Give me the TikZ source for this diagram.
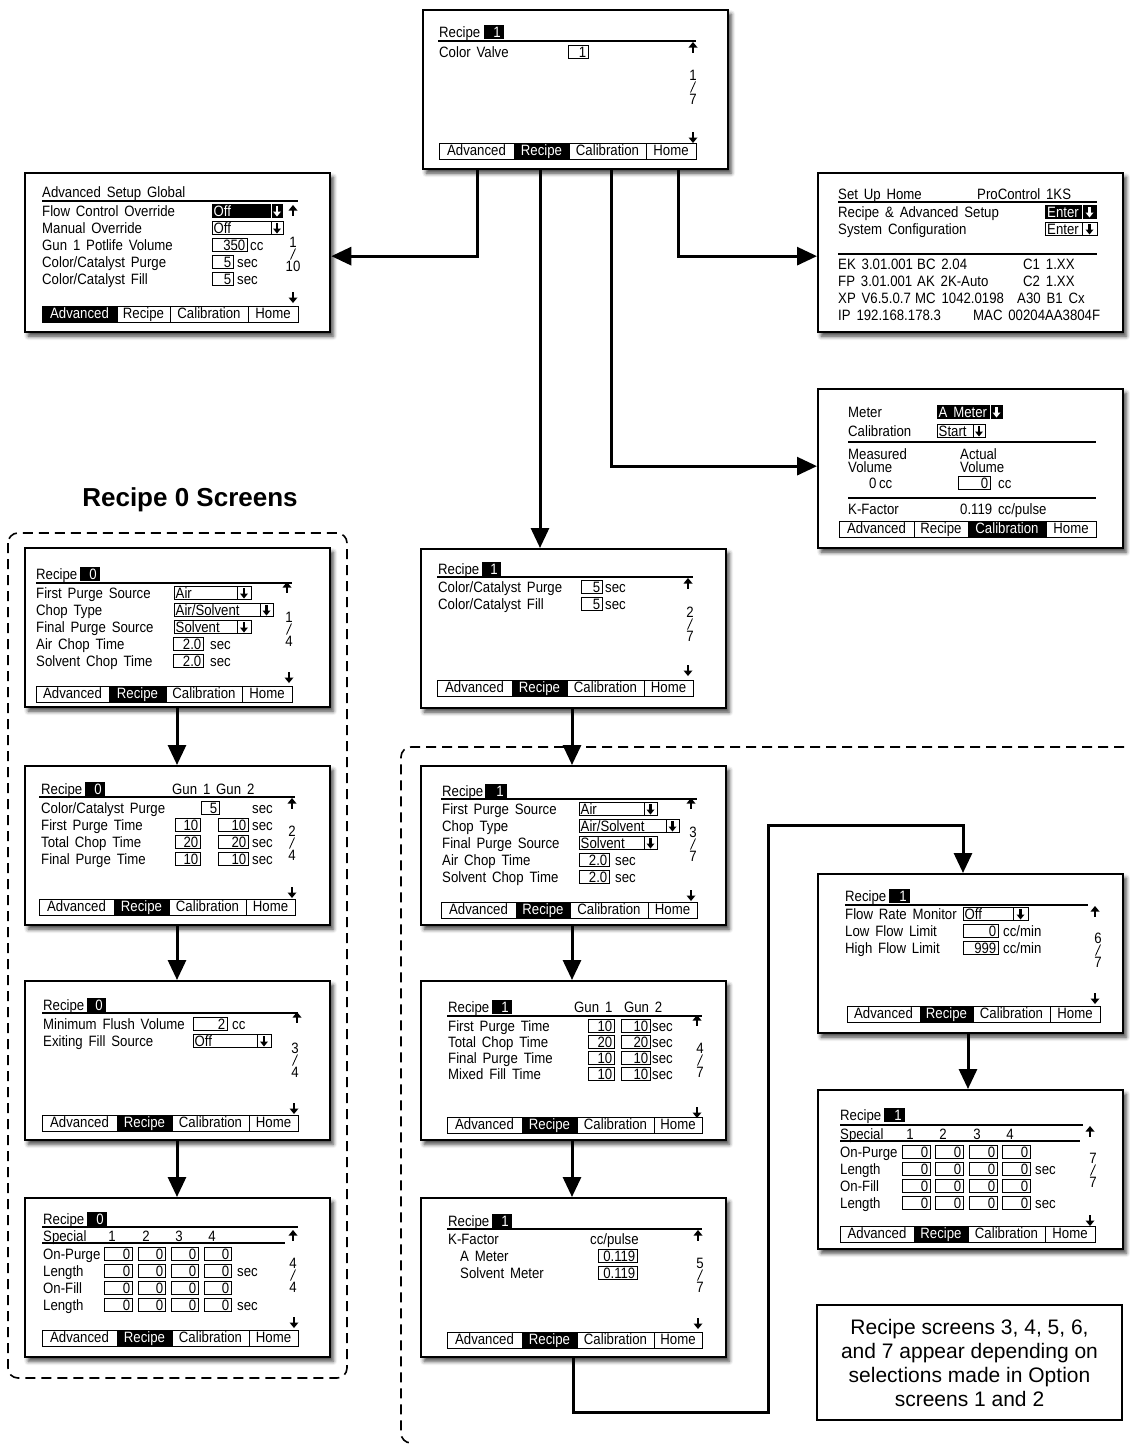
\documentclass[tikz,border=0pt]{standalone}
\usepackage{fontspec}
\setmainfont{Liberation Sans}
\newfontfamily\lcd[FakeStretch=0.88,WordSpace=1.6]{Liberation Sans}
\usetikzlibrary{arrows.meta,calc,shadows.blur}

\tikzset{
 lcd/.style={font=\lcd\fontsize{15}{18}\selectfont,inner sep=0pt},
 uline/.style={line width=1.1pt},
 fbox/.style={line width=0.9pt},
 tabl/.style={line width=1pt},
 screen/.style={draw,line width=2.3pt,fill=white,minimum width=305pt,minimum height=159pt,inner sep=0pt,anchor=north west,
   blur shadow={shadow xshift=3pt,shadow yshift=-4pt,shadow blur radius=4pt,shadow opacity=75}},
 conn/.style={line width=3pt,-{Triangle[length=20pt,width=18pt]}},
 dashbox/.style={line width=1.6pt,dash pattern=on 10pt off 6pt},
}
\newcommand\Tl[3]{\node[lcd,anchor=base west] at ({#1},{#2+5}) {#3};}
\newcommand\Tc[3]{\node[lcd,anchor=base] at ({#1},{#2+5}) {#3};}
\newcommand\Hl[3]{\draw[uline] ({#1},{#3}) -- ({#2},{#3});}
\newcommand\Ua[2]{\fill ({#1-4.5},{#2-0.5}) -- ({#1+4.5},{#2-0.5}) -- ({#1},{#2-6}) -- cycle; \fill ({#1-1.4},{#2-1}) rectangle ({#1+1.4},{#2+5});}
\newcommand\Da[2]{\fill ({#1-4.5},{#2+0.5}) -- ({#1+4.5},{#2+0.5}) -- ({#1},{#2+6}) -- cycle; \fill ({#1-1.4},{#2+1}) rectangle ({#1+1.4},{#2-5});}
\newcommand\Sa[3]{\fill[#3] ({#1-4},{#2+0.5}) -- ({#1+4},{#2+0.5}) -- ({#1},{#2+5.5}) -- cycle; \fill[#3] ({#1-1.3},{#2+1}) rectangle ({#1+1.3},{#2-5});}
\newcommand\Fd[4]{\draw[fbox] ({#1},{#3-6.5}) rectangle ({#2},{#3+6.5}); \node[lcd,anchor=base east] at ({#2-1.5},{#3+5}) {#4};}
\newcommand\Iv[4]{\fill ({#1},{#3-7}) rectangle ({#2},{#3+7}); \node[lcd,anchor=base east,text=white] at ({#2-3},{#3+5}) {#4};}
\newcommand\Dd[5]{\draw[fbox] ({#1},{#4-6.5}) rectangle ({#3},{#4+6.5}) ({#2},{#4-6.5}) -- ({#2},{#4+6.5}); \node[lcd,anchor=base west] at ({#1+1.5},{#4+5}) {#5}; \Sa{(#2+#3)/2}{#4}{black}}
\newcommand\Di[5]{\fill ({#1},{#4-7}) rectangle ({#3},{#4+7}); \draw[white,line width=0.8pt] ({#2},{#4-7}) -- ({#2},{#4+7}); \node[lcd,anchor=base west,text=white] at ({#1+1.5},{#4+5}) {#5}; \Sa{(#2+#3)/2}{#4}{white}}
\newcommand\Pg[4]{\Tc{#1}{#2-12}{#3}\draw[line width=0.8pt] ({#1+2.5},{#2-5.5}) -- ({#1-2.5},{#2+5.5});\Tc{#1}{#2+12}{#4}}
\newcommand\Four[9]{\Fd{#2}{#3}{#1}{0}\Fd{#4}{#5}{#1}{0}\Fd{#6}{#7}{#1}{0}\Fd{#8}{#9}{#1}{0}}
\newcommand\Tb[7]{%
 \ifcase#7\or\fill ({#1},{#6}) rectangle ({#2},{#6+16});%
 \or\fill ({#2},{#6}) rectangle ({#3},{#6+16});%
 \or\fill ({#3},{#6}) rectangle ({#4},{#6+16});\fi
 \draw[tabl] ({#1},{#6}) rectangle ({#5},{#6+16}) ({#2},{#6}) -- ({#2},{#6+16}) ({#3},{#6}) -- ({#3},{#6+16}) ({#4},{#6}) -- ({#4},{#6+16});
 \node[lcd,anchor=base] at ({(#1+#2)/2},{#6+12.5}) {\ifnum#7=1 \color{white}\fi Advanced};
 \node[lcd,anchor=base] at ({(#2+#3)/2},{#6+12.5}) {\ifnum#7=2 \color{white}\fi Recipe};
 \node[lcd,anchor=base] at ({(#3+#4)/2},{#6+12.5}) {\ifnum#7=3 \color{white}\fi Calibration};
 \node[lcd,anchor=base] at ({(#4+#5)/2},{#6+12.5}) {Home};
}

\begin{document}
\begin{tikzpicture}[x=1pt,y=-1pt]
\useasboundingbox (0,0) rectangle (1130,1446);

% dashed groups
\draw[dashbox,rounded corners=10pt] (8,533) rectangle (347,1378);
\draw[dashbox,rounded corners=10pt] (1140,747) -- (401,747) -- (401,1443) -- (414,1443);

% title and note
\node[font=\bfseries\fontsize{26}{30}\selectfont,inner sep=0pt] (ttl) at (190,500) {Recipe 0 Screens};
\node[draw,line width=1.5pt,minimum width=305pt,minimum height=115pt,align=center,inner sep=0pt,
  font=\fontsize{21}{24}\selectfont] (note) at (969.5,1362.5)
  {Recipe screens 3, 4, 5, 6,\\and 7 appear depending on\\selections made in Option\\screens 1 and 2};

% screen frames
\node[screen] (s1) at (422,9) {};
\node[screen] (adv) at (24,172) {};
\node[screen] (home) at (817,172) {};
\node[screen] (cal) at (817,388) {};
\node[screen] (r0a) at (24,547) {};
\node[screen] (r0b) at (24,765) {};
\node[screen] (r0c) at (24,980) {};
\node[screen] (r0d) at (24,1197) {};
\node[screen] (r1b) at (420,548) {};
\node[screen] (r1c) at (420,765) {};
\node[screen] (r1d) at (420,980) {};
\node[screen] (r1e) at (420,1197) {};
\node[screen] (r1f) at (817,873) {};
\node[screen] (r1g) at (817,1089) {};

% connectors
\coordinate (a1) at ($(s1.south west)+(55,0)$);
\coordinate (a2) at ($(s1.south west)+(118,0)$);
\coordinate (a3) at ($(s1.south west)+(189,0)$);
\coordinate (a4) at ($(s1.south west)+(256,0)$);
\draw[conn] (a1) |- ($(adv.east)+(0,3.5)$);
\draw[conn] (a2) -- (a2 |- r1b.north);
\draw[conn] (a3) |- ($(cal.west)+(0,-2.5)$);
\draw[conn] (a4) |- ($(home.west)+(0,3.5)$);
\coordinate (l1) at ($(r0a.south west)+(153,0)$);
\coordinate (l2) at ($(r0b.south west)+(153,0)$);
\coordinate (l3) at ($(r0c.south west)+(153,0)$);
\draw[conn] (l1) -- (l1 |- r0b.north);
\draw[conn] (l2) -- (l2 |- r0c.north);
\draw[conn] (l3) -- (l3 |- r0d.north);
\coordinate (m1) at ($(r1b.south west)+(152,0)$);
\coordinate (m2) at ($(r1c.south west)+(152,0)$);
\coordinate (m3) at ($(r1d.south west)+(152,0)$);
\draw[conn] (m1) -- (m1 |- r1c.north);
\draw[conn] (m2) -- (m2 |- r1d.north);
\draw[conn] (m3) -- (m3 |- r1e.north);
\coordinate (e1) at ($(r1e.south west)+(153,0)$);
\coordinate (turn) at (768,825);
\coordinate (e2) at ($(r1f.north west)+(146,0)$);
\draw[conn] (e1) -- ++(0,54) -| (turn) -| (e2);
\coordinate (f1) at ($(r1f.south west)+(151,0)$);
\draw[conn] (f1) -- (f1 |- r1g.north);

% ---- s1: Recipe 1, page 1
\begin{scope}[shift={(422,10)}]
\Tl{17}{22}{Recipe} \Iv{62}{82}{22}{1}
\Hl{16}{274}{31}
\Tl{17}{42}{Color Valve} \Fd{146}{166}{42}{1}
\Ua{271}{38} \Pg{271}{77}{1}{7} \Da{271}{127}
\Tb{17}{92}{147}{224}{274}{133}{2}
\end{scope}

% ---- Advanced
\begin{scope}[shift={(25,172)}]
\Tl{17}{20}{Advanced Setup Global}
\Hl{17}{273}{29}
\Tl{17}{39}{Flow Control Override} \Di{187}{246}{258}{39}{Off} \Ua{268}{39}
\Tl{17}{56}{Manual Override} \Dd{187}{246}{258}{56}{Off}
\Tl{17}{73}{Gun 1 Potlife Volume} \Fd{187}{222}{73}{350} \Tl{225}{73}{cc}
\Tl{17}{90}{Color/Catalyst Purge} \Fd{187}{208}{90}{5} \Tl{212}{90}{sec}
\Tl{17}{107}{Color/Catalyst Fill} \Fd{187}{208}{107}{5} \Tl{212}{107}{sec}
\Pg{268}{82}{1}{10} \Da{268}{125}
\Tb{17}{92}{145}{223}{273}{134}{1}
\end{scope}

% ---- Set Up Home
\begin{scope}[shift={(817,172)}]
\Tl{21}{22}{Set Up Home} \Tl{160}{22}{ProControl 1KS}
\Hl{21}{280}{30}
\Tl{21}{40}{Recipe \& Advanced Setup}
\fill (228,33) rectangle (280,47); \draw[white,line width=0.8pt] (265,33) -- (265,47);
\node[lcd,anchor=base west,text=white] at (230,45) {Enter}; \Sa{272.5}{40}{white}
\Tl{21}{57}{System Configuration}
\draw[fbox] (228,50.5) rectangle (280,63.5) (265,50.5) -- (265,63.5);
\node[lcd,anchor=base west] at (230,62) {Enter}; \Sa{272.5}{57}{black}
\Hl{21}{280}{82}
\Tl{21}{92}{EK 3.01.001} \Tl{100}{92}{BC 2.04} \Tl{206}{92}{C1 1.XX}
\Tl{21}{109}{FP 3.01.001} \Tl{100}{109}{AK 2K-Auto} \Tl{206}{109}{C2 1.XX}
\Tl{21}{126}{XP V6.5.0.7} \Tl{98}{126}{MC 1042.0198} \Tl{200}{126}{A30 B1 Cx}
\Tl{21}{143}{IP 192.168.178.3} \Tl{156}{143}{MAC 00204AA3804F}
\end{scope}

% ---- Calibration
\begin{scope}[shift={(817,388)}]
\Tl{31}{24}{Meter} \Di{120}{173}{186}{24}{A Meter}
\Tl{31}{43}{Calibration} \Dd{120}{156}{168}{43}{Start}
\Hl{31}{279}{54}
\Tl{31}{66}{Measured} \Tl{31}{79}{Volume} \Tl{143}{66}{Actual} \Tl{143}{79}{Volume}
\Tl{52}{95}{0\,cc} \Fd{141}{173}{95}{0} \Tl{181}{95}{cc}
\Hl{31}{279}{110}
\Tl{31}{121}{K-Factor} \Tl{143}{121}{0.119 cc/pulse}
\Tb{22}{97}{151}{229}{279}{133}{3}
\end{scope}

% ---- Recipe 0, page 1
\begin{scope}[shift={(25,550)}]
\Tl{11}{24}{Recipe} \Iv{55}{75}{24}{0}
\Hl{11}{267}{33}
\Tl{11}{43}{First Purge Source} \Dd{149}{212}{226}{43}{Air}
\Tl{11}{60}{Chop Type} \Dd{149}{235}{248}{60}{Air/Solvent}
\Tl{11}{77}{Final Purge Source} \Dd{149}{212}{226}{77}{Solvent}
\Tl{11}{94}{Air Chop Time} \Fd{148}{178}{94}{2.0} \Tl{185}{94}{sec}
\Tl{11}{111}{Solvent Chop Time} \Fd{148}{178}{111}{2.0} \Tl{185}{111}{sec}
\Ua{262}{38} \Pg{264}{79}{1}{4} \Da{264}{127}
\Tb{11}{84}{141}{217}{267}{136}{2}
\end{scope}

% ---- Recipe 0, page 2
\begin{scope}[shift={(25,766)}]
\Tl{16}{23}{Recipe} \Iv{60}{80}{23}{0} \Tl{147}{23}{Gun 1 Gun 2}
\Hl{14}{270}{31}
\Tl{16}{42}{Color/Catalyst Purge} \Fd{176}{194}{42}{5} \Tl{227}{42}{sec}
\Tl{16}{59}{First Purge Time} \Fd{150}{175}{59}{10} \Fd{193}{223}{59}{10} \Tl{227}{59}{sec}
\Tl{16}{76}{Total Chop Time} \Fd{150}{175}{76}{20} \Fd{193}{223}{76}{20} \Tl{227}{76}{sec}
\Tl{16}{93}{Final Purge Time} \Fd{150}{175}{93}{10} \Fd{193}{223}{93}{10} \Tl{227}{93}{sec}
\Ua{267}{38} \Pg{267}{77}{2}{4} \Da{267}{126}
\Tb{14}{89}{144}{221}{270}{133}{2}
\end{scope}

% ---- Recipe 0, page 3
\begin{scope}[shift={(25,982)}]
\Tl{18}{23}{Recipe} \Iv{62}{81}{23}{0}
\Hl{17}{273}{31}
\Tl{18}{42}{Minimum Flush Volume} \Fd{168}{202}{42}{2} \Tl{207}{42}{cc}
\Tl{18}{59}{Exiting Fill Source} \Dd{168}{232}{246}{59}{Off}
\Ua{272}{36} \Pg{270}{78}{3}{4} \Da{269}{126}
\Tb{17}{92}{147}{224}{273}{133}{2}
\end{scope}

% ---- Recipe 0, page 4
\begin{scope}[shift={(25,1198)}]
\Tl{18}{21}{Recipe} \Iv{62}{82}{21}{0}
\Hl{17}{273}{29}
\Tl{18}{38}{Special} \Tc{87}{38}{1} \Tc{121}{38}{2} \Tc{154}{38}{3} \Tc{187}{38}{4}
\Hl{17}{260}{45}
\Tl{18}{56}{On-Purge} \Four{56}{79}{107}{113}{140}{146}{173}{179}{206}
\Tl{18}{73}{Length} \Four{73}{79}{107}{113}{140}{146}{173}{179}{206} \Tl{212}{73}{sec}
\Tl{18}{90}{On-Fill} \Four{90}{79}{107}{113}{140}{146}{173}{179}{206}
\Tl{18}{107}{Length} \Four{107}{79}{107}{113}{140}{146}{173}{179}{206} \Tl{212}{107}{sec}
\Ua{268}{38} \Pg{268}{77}{4}{4} \Da{269}{124}
\Tb{17}{92}{147}{224}{273}{132}{2}
\end{scope}

% ---- Recipe 1, page 2
\begin{scope}[shift={(421,548)}]
\Tl{17}{21}{Recipe} \Iv{61}{80}{21}{1}
\Hl{16}{272}{29}
\Tl{17}{39}{Color/Catalyst Purge} \Fd{160}{181}{39}{5} \Tl{184}{39}{sec}
\Tl{17}{56}{Color/Catalyst Fill} \Fd{160}{181}{56}{5} \Tl{184}{56}{sec}
\Ua{267}{36} \Pg{269}{76}{2}{7} \Da{267}{122}
\Tb{16}{91}{146}{223}{272}{132}{2}
\end{scope}

% ---- Recipe 1, page 3
\begin{scope}[shift={(421,766)}]
\Tl{21}{25}{Recipe} \Iv{64}{86}{25}{1}
\Hl{20}{276}{33}
\Tl{21}{43}{First Purge Source} \Dd{158}{223}{236}{43}{Air}
\Tl{21}{60}{Chop Type} \Dd{158}{245}{258}{60}{Air/Solvent}
\Tl{21}{77}{Final Purge Source} \Dd{158}{223}{236}{77}{Solvent}
\Tl{21}{94}{Air Chop Time} \Fd{158}{188}{94}{2.0} \Tl{194}{94}{sec}
\Tl{21}{111}{Solvent Chop Time} \Fd{158}{188}{111}{2.0} \Tl{194}{111}{sec}
\Ua{270}{38} \Pg{272}{78}{3}{7} \Da{270}{129}
\Tb{20}{95}{149}{227}{276}{136}{2}
\end{scope}

% ---- Recipe 1, page 4
\begin{scope}[shift={(421,982)}]
\Tl{27}{25}{Recipe} \Iv{71}{91}{25}{1} \Tl{153}{25}{Gun 1\ \ Gun 2}
\Hl{26}{281}{34}
\Tl{27}{44}{First Purge Time} \Fd{167}{193}{44}{10} \Fd{200}{229}{44}{10} \Tl{231}{44}{sec}
\Tl{27}{60}{Total Chop Time} \Fd{167}{193}{60}{20} \Fd{200}{229}{60}{20} \Tl{231}{60}{sec}
\Tl{27}{76}{Final Purge Time} \Fd{167}{193}{76}{10} \Fd{200}{229}{76}{10} \Tl{231}{76}{sec}
\Tl{27}{92}{Mixed Fill Time} \Fd{167}{193}{92}{10} \Fd{200}{229}{92}{10} \Tl{231}{92}{sec}
\Ua{276}{39} \Pg{279}{78}{4}{7} \Da{276}{130}
\Tb{26}{101}{156}{233}{281}{135}{2}
\end{scope}

% ---- Recipe 1, page 5
\begin{scope}[shift={(421,1198)}]
\Tl{27}{23}{Recipe} \Iv{71}{91}{23}{1}
\Hl{26}{281}{31}
\Tl{27}{41}{K-Factor} \Tl{169}{41}{cc/pulse}
\Tl{39}{58}{A Meter} \Fd{177}{216}{58}{0.119}
\Tl{39}{75}{Solvent Meter} \Fd{177}{216}{75}{0.119}
\Ua{277}{38} \Pg{279}{77}{5}{7} \Da{277}{125}
\Tb{26}{101}{156}{233}{281}{134}{2}
\end{scope}

% ---- Recipe 1, page 6
\begin{scope}[shift={(817,874)}]
\Tl{28}{22}{Recipe} \Iv{72}{93}{22}{1}
\Hl{28}{271}{31}
\Tl{28}{40}{Flow Rate Monitor} \Dd{146}{196}{211}{40}{Off}
\Tl{28}{57}{Low Flow Limit} \Fd{146}{181}{57}{0} \Tl{186}{57}{cc/min}
\Tl{28}{74}{High Flow Limit} \Fd{146}{181}{74}{999} \Tl{186}{74}{cc/min}
\Ua{278}{38} \Pg{281}{76}{6}{7} \Da{278}{124}
\Tb{30}{103}{156}{233}{283}{132}{2}
\end{scope}

% ---- Recipe 1, page 7
\begin{scope}[shift={(817,1090)}]
\Tl{23}{25}{Recipe} \Iv{67}{88}{25}{1}
\Hl{23}{266}{35}
\Tl{23}{44}{Special} \Tc{93}{44}{1} \Tc{126}{44}{2} \Tc{160}{44}{3} \Tc{193}{44}{4}
\Hl{23}{263}{51}
\Tl{23}{62}{On-Purge} \Four{62}{85}{113}{118}{146}{152}{180}{185}{213}
\Tl{23}{79}{Length} \Four{79}{85}{113}{118}{146}{152}{180}{185}{213} \Tl{218}{79}{sec}
\Tl{23}{96}{On-Fill} \Four{96}{85}{113}{118}{146}{152}{180}{185}{213}
\Tl{23}{113}{Length} \Four{113}{85}{113}{118}{146}{152}{180}{185}{213} \Tl{218}{113}{sec}
\Ua{273}{42} \Pg{276}{80}{7}{7} \Da{273}{130}
\Tb{23}{97}{151}{228}{278}{136}{2}
\end{scope}
\end{tikzpicture}
\end{document}
